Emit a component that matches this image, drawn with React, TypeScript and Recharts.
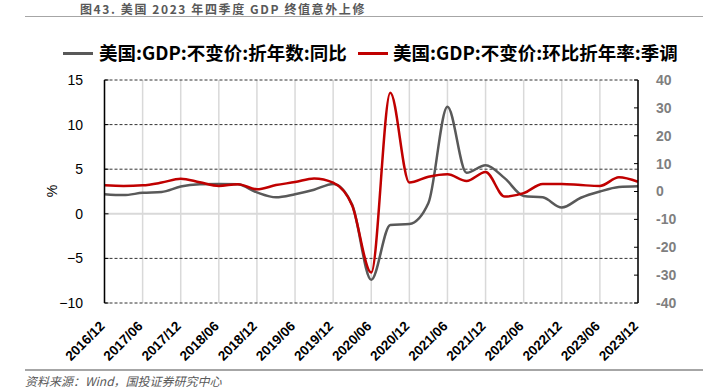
import { LineChart, Line, XAxis, YAxis, CartesianGrid, ReferenceLine } from 'recharts';

const quarters = [
  '2016/12', '2017/03', '2017/06', '2017/09', '2017/12', '2018/03', '2018/06', '2018/09',
  '2018/12', '2019/03', '2019/06', '2019/09', '2019/12', '2020/03', '2020/06', '2020/09',
  '2020/12', '2021/03', '2021/06', '2021/09', '2021/12', '2022/03', '2022/06', '2022/09',
  '2022/12', '2023/03', '2023/06', '2023/09', '2023/12',
];
// 美国:GDP:不变价:折年数:同比 (left axis, %)
const yoy = [
  2.2, 2.1, 2.35, 2.45, 3.05, 3.3, 3.35, 3.3, 2.4, 1.85, 2.2, 2.7, 3.35, 1.0, -7.4, -1.25,
  -1.15, 1.2, 12.0, 4.6, 5.45, 4.0, 2.0, 1.85, 0.7, 1.8, 2.5, 3.0, 3.1,
];
// 美国:GDP:不变价:环比折年率:季调 (right axis)
const qoqSaar = [
  2.2, 2.0, 2.2, 3.2, 4.6, 3.3, 2.0, 2.6, 0.8, 2.3, 3.4, 4.7, 3.2, -5.0, -29.1, 35.4,
  3.2, 5.3, 6.2, 3.8, 7.0, -1.8, -0.6, 2.7, 2.7, 2.3, 2.0, 5.1, 3.5,
];
const xTicks = [0, 2, 4, 6, 8, 10, 12, 14, 16, 18, 20, 22, 24, 26, 28];
const leftTicks = [-10, -5, 0, 5, 10, 15];
const rightTicks = [-40, -30, -20, -10, 0, 10, 20, 30, 40];
const dashedLevels = [-10, -5, 5, 10, 15];

const data = quarters.map((q, i) => ({ i, q, yoy: yoy[i], qoq: qoqSaar[i] }));

const XTick = ({ x, y, payload }: any) => (
  <text
    x={x + 1}
    y={y + 24}
    transform={`rotate(-45 ${x + 1} ${y + 24})`}
    textAnchor="end"
    fontSize={13.5}
    fontWeight={700}
    fill="#000"
    fontFamily="'Liberation Sans', Arial, sans-serif"
  >
    {quarters[payload.value]}
  </text>
);

export default function App() {
  return (
    <div style={{ position: 'absolute', left: 0, top: 0, width: 716, height: 392, background: '#fff', overflow: 'hidden', fontFamily: "'Liberation Sans', Arial, sans-serif" }}>
      <div style={{ position: 'absolute', left: 80, top: 3, fontSize: 12, lineHeight: '12px', fontWeight: 700, letterSpacing: 1.6, color: '#595959', fontFamily: "'Noto Sans CJK SC', sans-serif", whiteSpace: 'nowrap' }}>
        图43. 美国 2023 年四季度 GDP 终值意外上修
      </div>
      <div style={{ position: 'absolute', left: 25, top: 15.5, width: 678, height: 1.5, background: '#a6a6a6' }} />

      <div style={{ position: 'absolute', left: 63, top: 51.5, width: 30, height: 3, background: '#595959' }} />
      <div style={{ position: 'absolute', left: 99, top: 40, fontSize: 18.5, lineHeight: '24px', fontWeight: 700, color: '#000', fontFamily: "'Noto Sans CJK SC', sans-serif", whiteSpace: 'nowrap' }}>
        美国:GDP:不变价:折年数:同比
      </div>
      <div style={{ position: 'absolute', left: 358, top: 51.5, width: 30, height: 3, background: '#c00000' }} />
      <div style={{ position: 'absolute', left: 393, top: 40, fontSize: 18.5, lineHeight: '24px', fontWeight: 700, color: '#000', fontFamily: "'Noto Sans CJK SC', sans-serif", whiteSpace: 'nowrap' }}>
        美国:GDP:不变价:环比折年率:季调
      </div>

      <div style={{ position: 'absolute', left: 46, top: 183, fontSize: 14, transform: 'rotate(-90deg)', color: '#000' }}>%</div>

      <div style={{ position: 'absolute', left: 0, top: 0 }}>
        <LineChart width={716} height={392} data={data} margin={{ top: 80, right: 18, bottom: 39, left: 44.5 }}>
          <CartesianGrid horizontal={false} stroke="#d9d9d9" strokeWidth={1.5} yAxisId="L" />
          <XAxis
            dataKey="i"
            type="number"
            domain={[0, 28]}
            ticks={xTicks}
            interval={0}
            axisLine={false}
            tickLine={false}
            tickSize={0}
            tickMargin={0}
            height={50}
            tick={<XTick />}
          />
          <YAxis
            yAxisId="L"
            domain={[-10, 15]}
            ticks={leftTicks}
            width={60}
            axisLine={{ stroke: '#000', strokeWidth: 1.5 }}
            tickLine={{ stroke: '#000' }}
            tickSize={-4}
            tickMargin={25.5}
            tick={{ fontSize: 14, fill: '#000' }}
            tickFormatter={(v: number) => String(v).replace('-', '\u2212')}
          />
          <YAxis
            yAxisId="R"
            orientation="right"
            domain={[-40, 40]}
            ticks={rightTicks}
            width={60}
            axisLine={{ stroke: '#000', strokeWidth: 1.5 }}
            tickLine={{ stroke: '#000' }}
            tickSize={-4}
            tickMargin={22}
            tick={{ fontSize: 14, fontWeight: 700, fill: '#7f7f7f' }}
          />
          <ReferenceLine yAxisId="L" y={0} stroke="#d9d9d9" strokeWidth={2} />
          {dashedLevels.map((v) => (
            <ReferenceLine key={v} yAxisId="L" y={v} stroke="#333" strokeDasharray="3 2" strokeWidth={1} />
          ))}
          <Line yAxisId="L" type="monotone" dataKey="yoy" stroke="#595959" strokeWidth={2.5} dot={false} isAnimationActive={false} />
          <Line yAxisId="R" type="monotone" dataKey="qoq" stroke="#c00000" strokeWidth={2.5} dot={false} isAnimationActive={false} />
        </LineChart>
      </div>

      <div style={{ position: 'absolute', left: 25, top: 369, width: 678, height: 1.5, background: '#a6a6a6' }} />
      <div style={{ position: 'absolute', left: 25, top: 374, fontSize: 12, lineHeight: '14px', fontStyle: 'italic', color: '#595959', fontFamily: "'Noto Sans CJK SC', sans-serif", whiteSpace: 'nowrap' }}>
        资料来源：Wind，国投证券研究中心
      </div>
    </div>
  );
}
